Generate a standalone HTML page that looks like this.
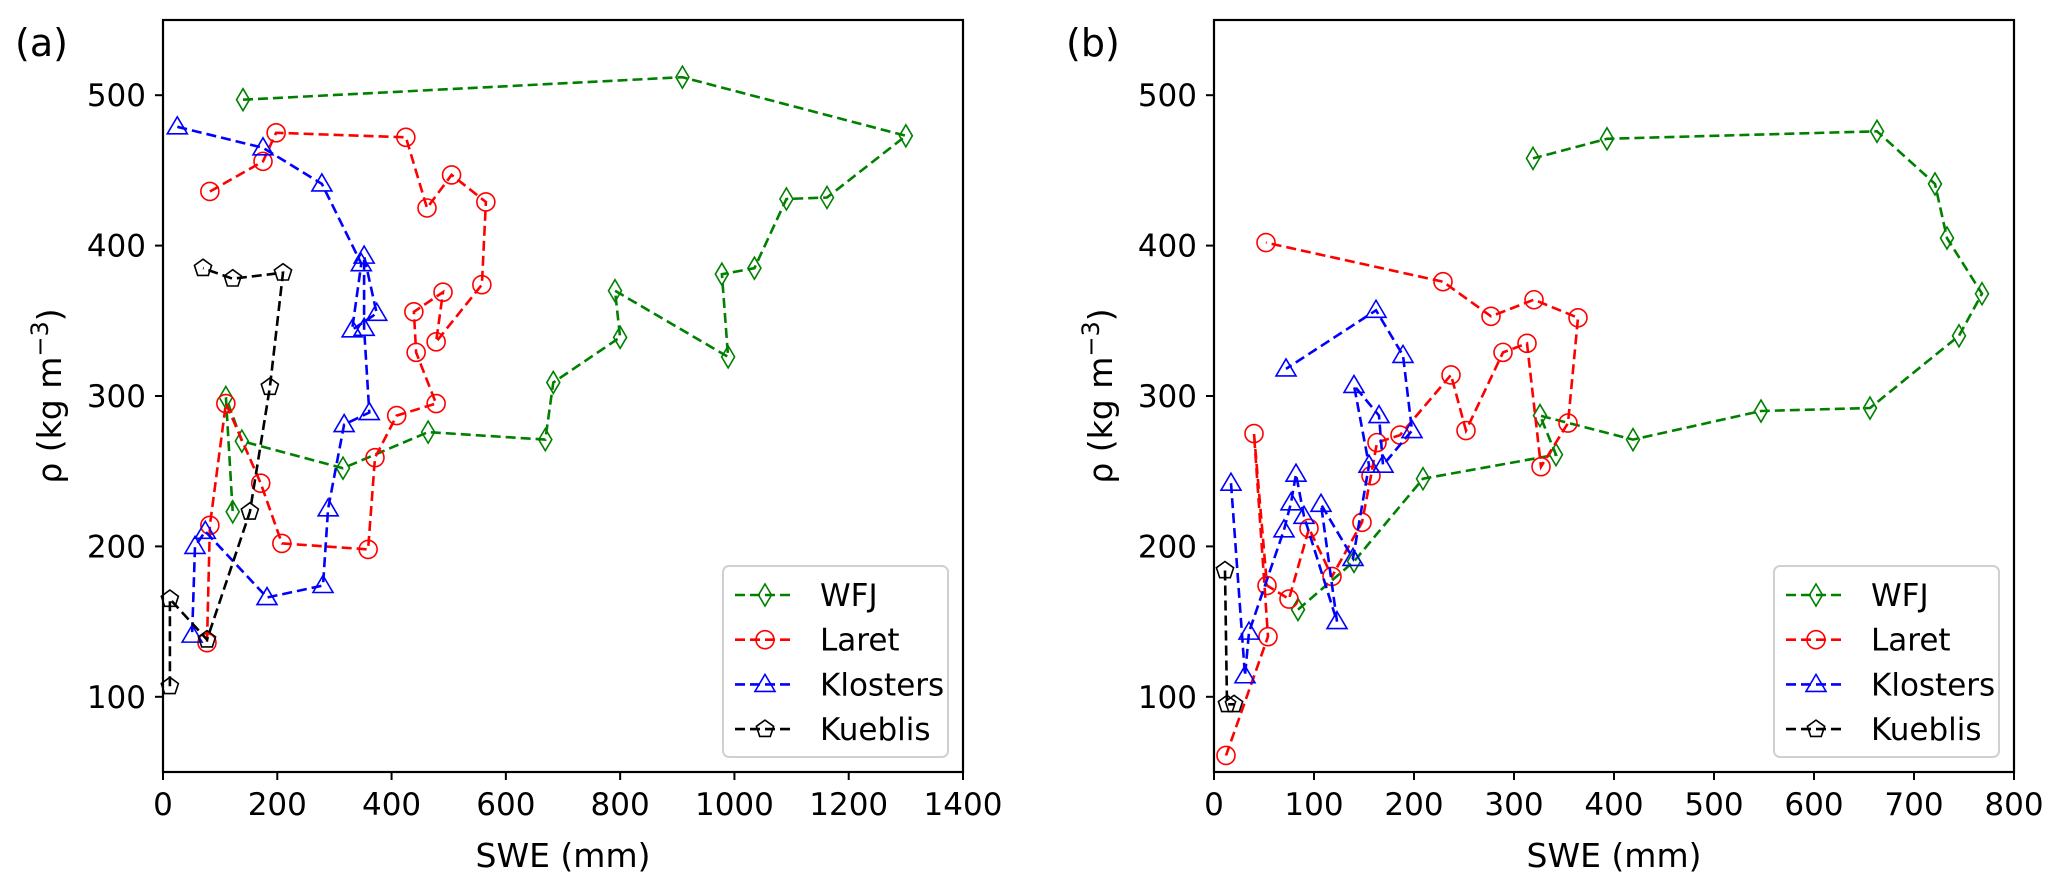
<!DOCTYPE html>
<html><head><meta charset="utf-8"><style>
body{margin:0;background:#fff;}
svg{display:block;font-family:"DejaVu Sans","Liberation Sans",sans-serif;}
</style></head><body>
<svg id="chart" width="2067" height="889" viewBox="0 0 2067 889" xmlns="http://www.w3.org/2000/svg"></svg>
<script>
// Panel (a) data
const aWFJx=[140,909,1300,1162,1091,1035,978,989,791,800,683,669,464,315,138,110,122];
const aWFJy=[497,512,473,432,431,385,381,326,370,339,309,271,276,252,270,299,223];
const aLaretx=[82,175,198,425,462,505,565,558,478,490,439,443,478,409,371,359,208,171,110,82,77];
const aLarety=[436,456,475,472,425,447,429,374,336,369,356,329,295,287,259,198,202,242,295,214,136];
const aKlostersx=[25,175,278,347,331,374,352,352,361,317,289,280,182,74,56,51];
const aKlostersy=[479,465,441,388,344,355,393,345,289,281,225,174,166,210,200,141];
const aKueblisx=[12,12,77,152,187,210,122,70];
const aKueblisy=[107,165,138,223,306,382,378,385];
// Panel (b) data
const bWFJx=[84,140,209,342,326,419,547,656,745,768,733,721,663,393,319];
const bWFJy=[158,190,245,261,287,271,290,292,340,368,405,441,476,471,458];
const bLaretx=[12,54,40,53,75,95,118,148,157,163,186,237,252,289,313,327,354,364,320,277,229,52];
const bLarety=[61,140,275,174,165,212,180,216,247,269,274,314,277,329,335,253,282,352,364,353,376,402];
const bKlostersx=[17,31,35,70,77,82,90,123,107,139,155,140,165,169,198,189,162,72];
const bKlostersy=[242,114,143,211,229,248,220,150,228,192,254,307,287,254,277,327,357,318];
const bKueblisx=[11,13,20];
const bKueblisy=[184,95,95];
const aXTicks=[0,200,400,600,800,1000,1200,1400];
const bXTicks=[0,100,200,300,400,500,600,700,800];
const yTicks=[100,200,300,400,500];
const seriesNames=["WFJ","Laret","Klosters","Kueblis"];

const NS="http://www.w3.org/2000/svg";
const svg=document.getElementById('chart');
function mk(tag,attrs,parent){const e=document.createElementNS(NS,tag);for(const k in attrs)e.setAttribute(k,attrs[k]);(parent||svg).appendChild(e);return e;}
const colors=["#008000","#ff0000","#0000ff","#000000"];
const kinds=["diamond","circle","triangle","pentagon"];

function markerPath(kind,x,y){
  if(kind==="diamond")return `M${x},${y-11}L${x+6.5},${y}L${x},${y+11}L${x-6.5},${y}Z`;
  if(kind==="triangle")return `M${x},${y-10}L${x+10},${y+7}L${x-10},${y+7}Z`;
  if(kind==="pentagon"){let p="";for(let i=0;i<5;i++){const a=-Math.PI/2+i*2*Math.PI/5;p+=(i?"L":"M")+(x+9*Math.cos(a)).toFixed(1)+","+(y+9*Math.sin(a)).toFixed(1);}return p+"Z";}
  return null;
}
function drawMarker(g,kind,x,y,c){
  let m;
  if(kind==="circle") m=mk('circle',{cx:x,cy:y,r:9,fill:'none',stroke:c,'stroke-width':1.6},g);
  else m=mk('path',{d:markerPath(kind,x,y),fill:'none',stroke:c,'stroke-width':1.6},g);
  return m;
}

function panel(opt){
  const {left,top,w,h,xmax,xTicks,label,data,pname}=opt;
  const X=v=>left+v/xmax*w;
  const Y=v=>top+h-(v-50)/500*h;
  const g=mk('g',{});
  
  
  // series
  data.forEach((s,i)=>{
    const sg=mk('g',{},g);
    
    
    const pts=s[0].map((v,j)=>X(v).toFixed(1)+","+Y(s[1][j]).toFixed(1)).join(" ");
    const pl=mk('polyline',{points:pts,fill:'none',stroke:colors[i],'stroke-width':2.6,'stroke-dasharray':'10,5'},sg);
    
    
    s[0].forEach((v,j)=>{
      const m=drawMarker(sg,kinds[i],X(v),Y(s[1][j]),colors[i]);
      
      
    });
  });
  // frame
  const fr=mk('rect',{x:left,y:top,width:w,height:h,fill:'none',stroke:'#000','stroke-width':2.2},g);
  
  
  // x ticks
  xTicks.forEach(t=>{
    const x=X(t);
    mk('line',{x1:x,y1:top+h,x2:x,y2:top+h+8,stroke:'#000','stroke-width':2},g);
    const tx=mk('text',{x:x,y:top+h+43,'text-anchor':'middle','font-size':31,fill:'#000'},g);
    tx.textContent=t;
    
    
  });
  yTicks.forEach(t=>{
    const y=Y(t);
    mk('line',{x1:left-8,y1:y,x2:left,y2:y,stroke:'#000','stroke-width':2},g);
    const tx=mk('text',{x:left-17,y:y+11,'text-anchor':'end','font-size':31,fill:'#000'},g);
    tx.textContent=t;
    
    
  });
  const xl=mk('text',{x:left+w/2,y:top+h+95,'text-anchor':'middle','font-size':33,fill:'#000'},g);
  xl.textContent='SWE (mm)';
  
  
  const yl=mk('text',{x:0,y:0,'text-anchor':'middle','font-size':33,fill:'#000',transform:`translate(${left-102},${top+h/2}) rotate(-90)`},g);
  yl.innerHTML='ρ (kg m<tspan dy="-13" font-size="24">−3</tspan><tspan dy="13">)</tspan>';
  
  
  const pl=mk('text',{x:left-148,y:top+36,'font-size':38,fill:'#000'},g);
  pl.textContent=label;
  
  
  // legend
  const lg=mk('g',{},g);
  
  
  const lx=left+w-240, ly=top+h-206;
  mk('rect',{x:lx,y:ly,width:225,height:191,rx:6,fill:'#fff','fill-opacity':0.85,stroke:'#d0d0d0','stroke-width':2},lg);
  seriesNames.forEach((n,i)=>{
    const ey=ly+29+i*44.7;
    const eg=mk('g',{},lg);
    
    
    mk('line',{x1:lx+12,y1:ey,x2:lx+72,y2:ey,stroke:colors[i],'stroke-width':2.6,'stroke-dasharray':'10,5'},eg);
    drawMarker(eg,kinds[i],lx+42,ey,colors[i]);
    const t=mk('text',{x:lx+97,y:ey+11,'font-size':31,fill:'#000'},eg);
    t.textContent=n;
  });
}
panel({left:163,top:20,w:800,h:752,xmax:1400,xTicks:aXTicks,label:'(a)',pname:'panel-a',
  data:[[aWFJx,aWFJy],[aLaretx,aLarety],[aKlostersx,aKlostersy],[aKueblisx,aKueblisy]]});
panel({left:1214,top:20,w:800,h:752,xmax:800,xTicks:bXTicks,label:'(b)',pname:'panel-b',
  data:[[bWFJx,bWFJy],[bLaretx,bLarety],[bKlostersx,bKlostersy],[bKueblisx,bKueblisy]]});
</script>
</body></html>
